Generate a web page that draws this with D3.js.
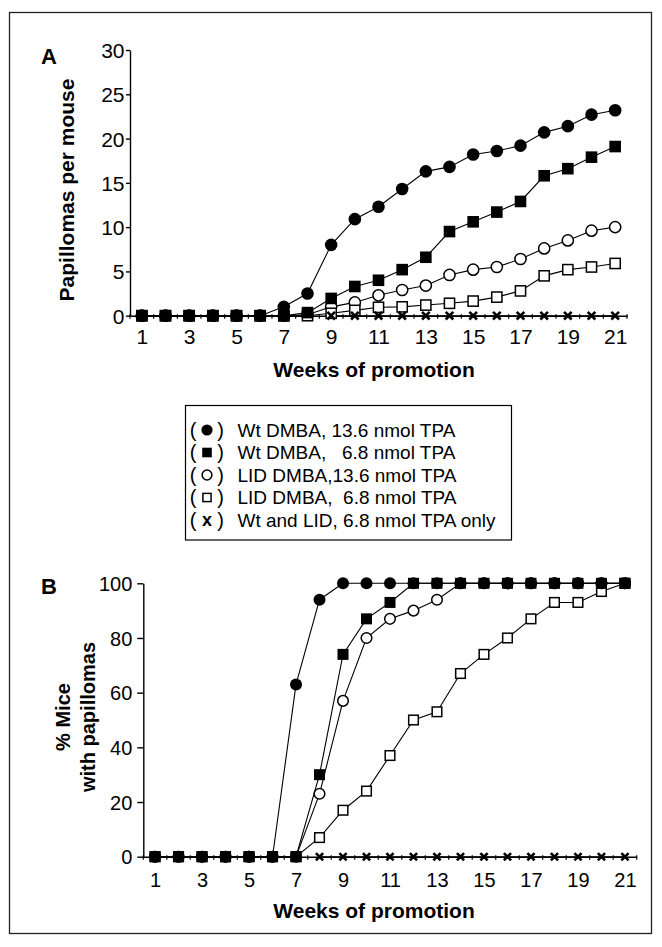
<!DOCTYPE html>
<html>
<head>
<meta charset="utf-8">
<script src="https://cdn.jsdelivr.net/npm/d3@7"></script>
<style>
  html, body { margin: 0; padding: 0; background: #fff; }
  svg { display: block; font-family: "Liberation Sans", Arial, Helvetica, sans-serif; }
  .pre { white-space: pre; }
</style>
</head>
<body>
<svg id="chart" width="662" height="947"></svg>
<script>
// ---------- data ----------
const weeks = [1,2,3,4,5,6,7,8,9,10,11,12,13,14,15,16,17,18,19,20,21];
const weekTickLabels = [1,3,5,7,9,11,13,15,17,19,21];

// Panel A: papillomas per mouse
const wt136A  = [0,0,0,0,0,0,1.0,2.5,8.0,10.9,12.3,14.3,16.3,16.8,18.2,18.6,19.2,20.7,21.4,22.7,23.2];
const wt68A   = [0,0,0,0,0,0,0,0.35,1.95,3.3,4.0,5.2,6.6,9.5,10.6,11.7,12.9,15.8,16.6,17.9,19.1];
const lid136A = [0,0,0,0,0,0,0,0.1,1.0,1.5,2.3,2.9,3.4,4.6,5.2,5.5,6.4,7.6,8.5,9.6,10.0];
const lid68A  = [0,0,0,0,0,0,0,0,0.27,0.6,0.95,1.0,1.2,1.4,1.65,2.1,2.8,4.5,5.2,5.5,5.9];
const tpaOnlyA = [null,null,null,null,null,null,null,null,0,0,0,0,0,0,0,0,0,0,0,0,0];
const yTicksA = [0,5,10,15,20,25,30];

// Panel B: % mice with papillomas
const wt136B  = [0,0,0,0,0,0,63,94,100,100,100,100,100,100,100,100,100,100,100,100,100];
const wt68B   = [0,0,0,0,0,0,0,30,74,87,93,100,100,100,100,100,100,100,100,100,100];
const lid136B = [0,0,0,0,0,0,0,23,57,80,87,90,94,100,100,100,100,100,100,100,100];
const lid68B  = [0,0,0,0,0,0,0,7,17,24,37,50,53,67,74,80,87,93,93,97,100];
const tpaOnlyB = [null,null,null,null,null,null,null,0,0,0,0,0,0,0,0,0,0,0,0,0,0];
const yTicksB = [0,20,40,60,80,100];

const legendSymbols = ["fcircle","fsquare","ocircle","osquare","x"];
const legendLabels = [
  "Wt DMBA, 13.6 nmol TPA",
  "Wt DMBA,   6.8 nmol TPA",
  "LID DMBA,13.6 nmol TPA",
  "LID DMBA,  6.8 nmol TPA",
  "Wt and LID, 6.8 nmol TPA only"
];

// ---------- drawing ----------
const svg = d3.select("#chart");
const FONT = '"Liberation Sans", Arial, Helvetica, sans-serif';

// outer frame
svg.append("rect").attr("x",9.5).attr("y",12.5).attr("width",642).attr("height",921)
  .attr("fill","none").attr("stroke","#222").attr("stroke-width",1.3);

function drawMarker(g, type, cx, cy, s) {
  if (type === "fcircle") {
    g.append("circle").attr("cx",cx).attr("cy",cy).attr("r",s.r).attr("fill","#000");
  } else if (type === "ocircle") {
    g.append("circle").attr("cx",cx).attr("cy",cy).attr("r",s.r-0.7).attr("fill","#fff")
      .attr("stroke","#000").attr("stroke-width",1.5);
  } else if (type === "fsquare") {
    g.append("rect").attr("x",cx-s.h).attr("y",cy-s.h).attr("width",2*s.h).attr("height",2*s.h).attr("fill","#000");
  } else if (type === "osquare") {
    const h = s.h-0.7;
    g.append("rect").attr("x",cx-h).attr("y",cy-h).attr("width",2*h).attr("height",2*h)
      .attr("fill","#fff").attr("stroke","#000").attr("stroke-width",1.5);
  } else if (type === "x") {
    const k = s.xh;
    g.append("path").attr("d",`M${cx-k},${cy-k}L${cx+k},${cy+k}M${cx+k},${cy-k}L${cx-k},${cy+k}`)
      .attr("stroke","#000").attr("stroke-width",2.6).attr("fill","none");
  }
}

function panel(cfg) {
  const g = svg.append("g");
  const x = d3.scaleLinear().domain([0.5,21.5]).range([cfg.x0,cfg.x1]);
  const y = d3.scaleLinear().domain([0,cfg.ymax]).range([cfg.y0,cfg.y1]);

  // series lines
  const line = d3.line().defined(d => d[1] !== null).x(d => x(d[0])).y(d => y(d[1]));
  cfg.series.forEach(s => {
    g.append("path").datum(weeks.map((w,i) => [w, s.values[i]]))
      .attr("d", line).attr("fill","none").attr("stroke","#000").attr("stroke-width",1.1);
  });

  // axes
  const yAxis = d3.axisLeft(y).tickValues(cfg.yTicks).tickSizeInner(cfg.yTick).tickSizeOuter(0).tickPadding(cfg.yPad);
  const ya = g.append("g").attr("transform",`translate(${cfg.x0},0)`).call(yAxis);
  ya.select(".domain").attr("stroke","#000").attr("stroke-width",1.4);
  ya.selectAll(".tick line").attr("stroke","#000").attr("stroke-width",1.4);
  ya.selectAll(".tick text").attr("font-family",FONT).attr("font-size",cfg.tickFs).attr("fill","#000").attr("dy","0.36em");

  const xAxis = d3.axisBottom(x).tickValues(weekTickLabels).tickSize(0).tickPadding(cfg.xPad);
  const xa = g.append("g").attr("transform",`translate(0,${cfg.y0})`).call(xAxis);
  xa.select(".domain").attr("stroke","#000").attr("stroke-width",1.4);
  xa.selectAll(".tick text").attr("font-family",FONT).attr("font-size",cfg.tickFs).attr("fill","#000");

  // small ticks between weeks
  const minor = d3.range(0.5, 21.6, 1);
  g.append("g").selectAll("line").data(minor).join("line")
    .attr("x1", d => x(d)).attr("x2", d => x(d))
    .attr("y1", cfg.y0 - 1.5).attr("y2", cfg.y0 + 3)
    .attr("stroke","#000").attr("stroke-width",1.2);

  // markers
  cfg.series.forEach(s => {
    const mg = g.append("g");
    weeks.forEach((w,i) => {
      if (s.values[i] === null) return;
      drawMarker(mg, s.type, x(w), y(s.values[i]), cfg.msize);
    });
  });

  // panel letter
  svg.append("text").attr("x",41).attr("y",cfg.letterY).attr("font-family",FONT)
    .attr("font-weight","bold").attr("font-size",22).text(cfg.letter);

  // x title
  svg.append("text").attr("x",374).attr("y",cfg.xTitleY).attr("text-anchor","middle")
    .attr("font-family",FONT).attr("font-weight","bold").attr("font-size",21).text("Weeks of promotion");

  // y title
  cfg.yTitle.forEach((t,i) => {
    svg.append("text").attr("transform",`translate(${cfg.yTitleX[i]},${cfg.yTitleY}) rotate(-90)`)
      .attr("text-anchor","middle").attr("font-family",FONT).attr("font-weight","bold")
      .attr("font-size",cfg.yTitleFs).text(t);
  });
}

panel({
  x0:130, x1:627, y0:315.7, y1:50, ymax:30, yTicks:yTicksA, yTick:4, yPad:1.5,
  xPad:13.5, tickFs:21,
  msize:{r:6.3, h:5.8, xh:3.8},
  series:[
    {type:"fcircle", values:wt136A},
    {type:"ocircle", values:lid136A},
    {type:"osquare", values:lid68A},
    {type:"x", values:tpaOnlyA},
    {type:"fsquare", values:wt68A}
  ],
  letter:"A", letterY:63.5, xTitleY:377,
  yTitle:["Papillomas per mouse"], yTitleX:[74], yTitleY:190, yTitleFs:21
});

panel({
  x0:143.3, x1:636.7, y0:856.7, y1:583.3, ymax:100, yTicks:yTicksB, yTick:6, yPad:5,
  xPad:16.5, tickFs:20,
  msize:{r:6.0, h:5.5, xh:3.6},
  series:[
    {type:"osquare", values:lid68B},
    {type:"ocircle", values:lid136B},
    {type:"x", values:tpaOnlyB},
    {type:"fcircle", values:wt136B},
    {type:"fsquare", values:wt68B}
  ],
  letter:"B", letterY:593.5, xTitleY:917.5,
  yTitle:["% Mice","with papillomas"], yTitleX:[70,95], yTitleY:717, yTitleFs:20
});

// legend
const lg = svg.append("g");
lg.append("rect").attr("x",185.5).attr("y",405.5).attr("width",326).attr("height",134.5)
  .attr("fill","#fff").attr("stroke","#000").attr("stroke-width",1.2);
const rowY = d3.scalePoint().domain(d3.range(legendLabels.length)).range([430,520]);
legendLabels.forEach((lab,i) => {
  const cy = rowY(i);
  lg.append("text").attr("x",193).attr("y",cy+6.8).attr("text-anchor","middle").attr("font-family",FONT).attr("font-size",20).text("(");
  lg.append("text").attr("x",220.5).attr("y",cy+6.8).attr("text-anchor","middle").attr("font-family",FONT).attr("font-size",20).text(")");
  const t = legendSymbols[i];
  if (t === "x") {
    lg.append("text").attr("x",207).attr("y",cy+5.5).attr("text-anchor","middle").attr("font-family",FONT)
      .attr("font-weight","bold").attr("font-size",18).text("x");
  } else {
    drawMarker(lg, t, 207, cy, {r:5.6, h:4.8, xh:3.5});
  }
  lg.append("text").attr("class","pre").attr("x",237.5).attr("y",cy+6.8).attr("font-family",FONT)
    .attr("font-size",19).text(lab);
});
</script>
</body>
</html>
